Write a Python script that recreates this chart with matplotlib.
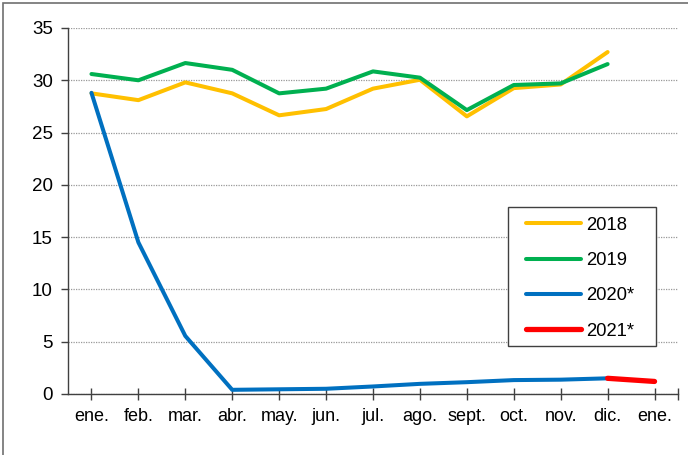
import matplotlib.pyplot as plt
from matplotlib.patches import Rectangle

plt.rcParams['font.family'] = ['Liberation Sans', 'DejaVu Sans']

# ---------------------------
# Data
# ---------------------------
months = ["ene.", "feb.", "mar.", "abr.", "may.", "jun.", "jul.",
          "ago.", "sept.", "oct.", "nov.", "dic.", "ene."]

v2018 = [28.75, 28.1, 29.8, 28.75, 26.65, 27.25, 29.2, 30.05, 26.55, 29.25, 29.6, 32.7]
v2019 = [30.6, 30.0, 31.65, 31.0, 28.75, 29.2, 30.85, 30.25, 27.15, 29.55, 29.7, 31.55]
v2020 = [28.8, 14.5, 5.55, 0.4, 0.45, 0.5, 0.72, 0.97, 1.13, 1.33, 1.37, 1.5]
v2021 = [1.5, 1.2]   # dic. 2020 -> ene. 2021

colors = {"2018": "#FFC000", "2019": "#00B050", "2020*": "#0070C0", "2021*": "#FF0000"}

# ---------------------------
# Plot
# ---------------------------
fig = plt.figure(figsize=(6.88, 4.55), dpi=100)
ax = fig.add_axes([68 / 688, 1 - 394 / 455, 610 / 688, 366 / 455])

x12 = list(range(12))
ax.plot(x12, v2018, color=colors["2018"], lw=2.9, label="2018", solid_capstyle="round")
ax.plot(x12, v2019, color=colors["2019"], lw=2.9, label="2019", solid_capstyle="round")
ax.plot(x12, v2020, color=colors["2020*"], lw=2.9, label="2020*", solid_capstyle="round")
ax.plot([11, 12], v2021, color=colors["2021*"], lw=3.8, label="2021*", solid_capstyle="round")

ax.set_xlim(-0.5, 12.5)
ax.set_ylim(0, 35)
ax.set_yticks(range(0, 36, 5))
ax.set_xticks(range(13))
ax.set_xticks([12.5], minor=True)
ax.set_xticklabels(months)

ax.yaxis.grid(True, color="#999999", linestyle=(0, (1, 1)), linewidth=0.9)
ax.set_axisbelow(True)
for s in ["top", "right"]:
    ax.spines[s].set_visible(False)
for s in ["left", "bottom"]:
    ax.spines[s].set_color("#404040")
    ax.spines[s].set_linewidth(1.0)

ax.tick_params(axis="y", direction="out", length=5, width=1, color="#404040",
               labelsize=13.5, pad=6)
ax.tick_params(axis="x", which="both", direction="inout", length=8, width=1,
               color="#404040", labelsize=13, pad=6)

# legend box drawn separately so the padding matches the original
ax.add_patch(Rectangle((0.721, 0.131), 0.243, 0.380, transform=ax.transAxes,
                       facecolor="white", edgecolor="#404040", linewidth=1.0, zorder=4))
leg = ax.legend(loc="upper left", bbox_to_anchor=(0.750, 0.484), fontsize=13.3,
                frameon=False, handlelength=3.0, handletextpad=0.3,
                labelspacing=0.99, borderpad=0, borderaxespad=0)
leg.set_zorder(5)

# figure border
fig.patches.append(Rectangle((3 / 688, -0.02), 1.1, 1 - 3 / 455 + 0.02,
                             transform=fig.transFigure, fill=False,
                             edgecolor="#707070", linewidth=1.2))

fig.savefig("out.png", dpi=100)
